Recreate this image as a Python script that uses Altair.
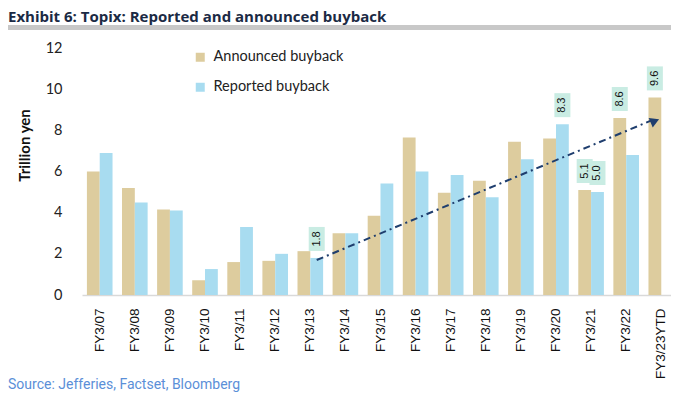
import altair as alt
import pandas as pd

categories = ["FY3/07", "FY3/08", "FY3/09", "FY3/10", "FY3/11", "FY3/12", "FY3/13",
              "FY3/14", "FY3/15", "FY3/16", "FY3/17", "FY3/18", "FY3/19", "FY3/20",
              "FY3/21", "FY3/22", "FY3/23YTD"]
announced = [6.0, 5.2, 4.15, 0.72, 1.6, 1.66, 2.13, 3.0, 3.85, 7.65, 4.97, 5.55, 7.45, 7.6, 5.1, 8.6, 9.6]
reported = [6.9, 4.5, 4.1, 1.26, 3.3, 2.0, 1.8, 3.0, 5.42, 6.0, 5.83, 4.75, 6.6, 8.3, 5.0, 6.8, None]
series_names = ["Announced buyback", "Reported buyback"]
series_colors = ["#DDCC9E", "#A8DCF0"]

label_cats = ["FY3/13", "FY3/20", "FY3/21", "FY3/21", "FY3/22", "FY3/23YTD"]
label_series = ["Reported buyback", "Reported buyback", "Announced buyback",
                "Reported buyback", "Announced buyback", "Announced buyback"]
label_values = [1.8, 8.3, 5.1, 5.0, 8.6, 9.6]
label_texts = ["1.8", "8.3", "5.1", "5.0", "8.6", "9.6"]

trend_cats = ["FY3/13", "FY3/23YTD"]
trend_series = ["Reported buyback", "Announced buyback"]
trend_values = [1.7, 8.55]

title_text = "Exhibit 6: Topix: Reported and announced buyback"
source_text = "Source: Jefferies, Factset, Bloomberg"
y_title = "Trillion yen"

rows = []
for c, a, r in zip(categories, announced, reported):
    if a is not None:
        rows.append({"cat": c, "series": series_names[0], "value": a})
    if r is not None:
        rows.append({"cat": c, "series": series_names[1], "value": r})
bars_df = pd.DataFrame(rows)
labels_df = pd.DataFrame({"cat": label_cats, "series": label_series,
                          "value": label_values, "text": label_texts})
trend_df = pd.DataFrame({"cat": trend_cats, "series": trend_series, "value": trend_values})
arrow_df = trend_df.iloc[[1]]

W, H = 589, 247
PL = 74
X_SPAN = 597

x_enc = alt.X("cat:N", sort=categories,
              scale=alt.Scale(type="band", paddingInner=0.27, paddingOuter=0.14,
                              rangeMax=X_SPAN),
              axis=alt.Axis(title=None, labelAngle=270, labelFont="Liberation Sans",
                            labelFontSize=13.5, labelColor="#111111", labelPadding=13,
                            ticks=False, domainColor="#D9D9D9", domainWidth=1.5))
xo_enc = alt.XOffset("series:N", sort=series_names)
y_enc = alt.Y("value:Q", scale=alt.Scale(domain=[0, 12]),
              axis=alt.Axis(values=[0, 2, 4, 6, 8, 10, 12], grid=False, domain=False,
                            ticks=False, labelFont="Lato", labelFontSize=14.5,
                            labelColor="#222222", labelPadding=20,
                            title=y_title, titleFont="Lato", titleFontSize=15,
                            titleFontWeight="bold", titleColor="#111111",
                            titleAngle=270, titleX=-58, titleY=97,
                            titleAlign="center", titleBaseline="middle"))

bars = alt.Chart(bars_df).mark_bar().encode(
    x=x_enc, xOffset=xo_enc, y=y_enc,
    color=alt.Color("series:N", sort=series_names,
                    scale=alt.Scale(domain=series_names, range=series_colors),
                    legend=alt.Legend(title=None, orient="none", legendX=111, legendY=2,
                                      symbolType="square", symbolSize=81,
                                      symbolStrokeWidth=0, labelFont="Lato",
                                      labelFontSize=14.5, labelColor="#222222",
                                      rowPadding=15, labelOffset=6)),
)

boxes = alt.Chart(labels_df).mark_tick(
    orient="vertical", size=24, thickness=16, opacity=1, color="#C9ECE3", yOffset=-19
).encode(x=alt.X("cat:N", sort=categories), xOffset=xo_enc, y="value:Q")

texts = alt.Chart(labels_df).mark_text(
    angle=270, font="Liberation Sans", fontSize=11, color="#111111",
    align="center", baseline="middle", yOffset=-19
).encode(x=alt.X("cat:N", sort=categories), xOffset=xo_enc, y="value:Q", text="text:N")

trend = alt.Chart(trend_df).mark_line(
    color="#1F3E6E", strokeWidth=2, strokeDash=[7, 4, 2, 4]
).encode(x=alt.X("cat:N", sort=categories), xOffset=xo_enc, y="value:Q")

arrow = alt.Chart(arrow_df).mark_point(
    shape="triangle-right", size=110, filled=True, opacity=1, color="#1F3E6E",
    angle=337, xOffset=-4, yOffset=2
).encode(x=alt.X("cat:N", sort=categories), xOffset=xo_enc, y="value:Q")

one = pd.DataFrame({"t": [title_text]})
title = alt.Chart(one).mark_text(
    font="Open Sans", fontSize=15, fontWeight="bold", color="#1B2A44",
    align="left", baseline="alphabetic"
).encode(x=alt.value(-PL), y=alt.value(-26.5), text="t:N")

header_bar = alt.Chart(one).mark_rule(color="#C8C8C8", strokeWidth=5).encode(
    x=alt.value(-PL), x2=alt.value(X_SPAN), y=alt.value(-20.5))

src = pd.DataFrame({"t": [source_text]})
source = alt.Chart(src).mark_text(
    font="Roboto", fontSize=14, color="#5B8FD8", align="left", baseline="middle"
).encode(x=alt.value(-PL), y=alt.value(337), text="t:N")

chart = alt.layer(bars, boxes, texts, trend, arrow, title, header_bar, source).properties(
    width=W, height=H,
    autosize=alt.AutoSizeParams(type="none"),
    padding={"left": PL, "top": 40, "right": 0, "bottom": 98},
).configure_view(stroke=None)

chart.save("out.html", embed_options={"renderer": "svg", "actions": False})
